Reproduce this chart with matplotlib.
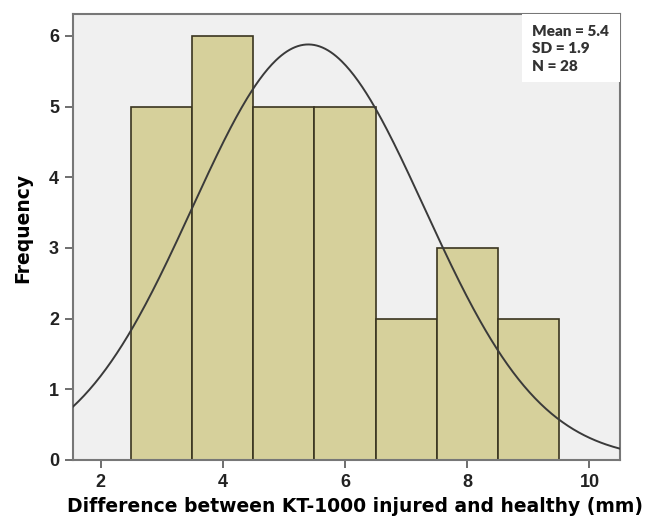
import numpy as np
import matplotlib
matplotlib.use("Agg")
import matplotlib.pyplot as plt
from matplotlib.patches import Rectangle

bin_edges = [2.5, 3.5, 4.5, 5.5, 6.5, 7.5, 8.5, 9.5]
counts = [5, 6, 5, 5, 2, 3, 2]
mean_val = 5.4
sd_val = 1.9
n_val = 28
xticks = [2, 4, 6, 8, 10]
yticks = [0, 1, 2, 3, 4, 5, 6]

plt.rcParams['font.family'] = ['Liberation Sans', 'DejaVu Sans']

fig = plt.figure(figsize=(6.56, 5.17), dpi=100)
ax = fig.add_axes([73/656, 1 - 460/517, (620-73)/656, (460-14)/517])
ax.set_facecolor("#f0f0f0")

lefts = bin_edges[:-1]
widths = np.diff(bin_edges)
ax.bar(lefts, counts, width=widths, align="edge", color="#d6d09b",
       edgecolor="#3a3520", linewidth=1.2, zorder=2)

xs = np.linspace(1.55, 10.5, 400)
bw = widths[0]
ys = n_val * bw / (sd_val * np.sqrt(2 * np.pi)) * np.exp(-0.5 * ((xs - mean_val) / sd_val) ** 2)
ax.plot(xs, ys, color="#3a3a3a", linewidth=1.4, zorder=3)

ax.set_xlim(1.55, 10.5)
ax.set_ylim(0, 6.31)
ax.set_xticks(xticks)
ax.set_yticks(yticks)
ax.tick_params(axis="both", direction="out", length=6, width=1.2, color="#555555",
               labelsize=13, pad=4)
for lab in ax.get_xticklabels() + ax.get_yticklabels():
    lab.set_fontweight("bold")
    lab.set_color("#222222")
for s in ax.spines.values():
    s.set_color("#777777")
    s.set_linewidth(1.5)

ax.set_xlabel("Difference between KT-1000 injured and healthy (mm)",
              fontsize=13.5, fontweight="heavy", family="DejaVu Sans")
ax.xaxis.set_label_coords(0.516, -0.084)
ax.set_ylabel("Frequency", fontsize=13.5, fontweight="heavy", family="DejaVu Sans")
ax.yaxis.set_label_coords(-0.075, 0.52)

# stats box
box = Rectangle((0.821, 0.8475), 0.179, 0.1525, transform=ax.transAxes,
                facecolor="white", edgecolor="none", zorder=4)
ax.add_patch(box)
ax.text(0.84, 0.976, f"Mean = {mean_val}\nSD = {sd_val}\nN = {n_val}",
        transform=ax.transAxes, ha="left", va="top", fontsize=11,
        fontweight="heavy", color="#333333", linespacing=1.42, zorder=5,
        family="Lato")

fig.savefig("out.png", dpi=100)
